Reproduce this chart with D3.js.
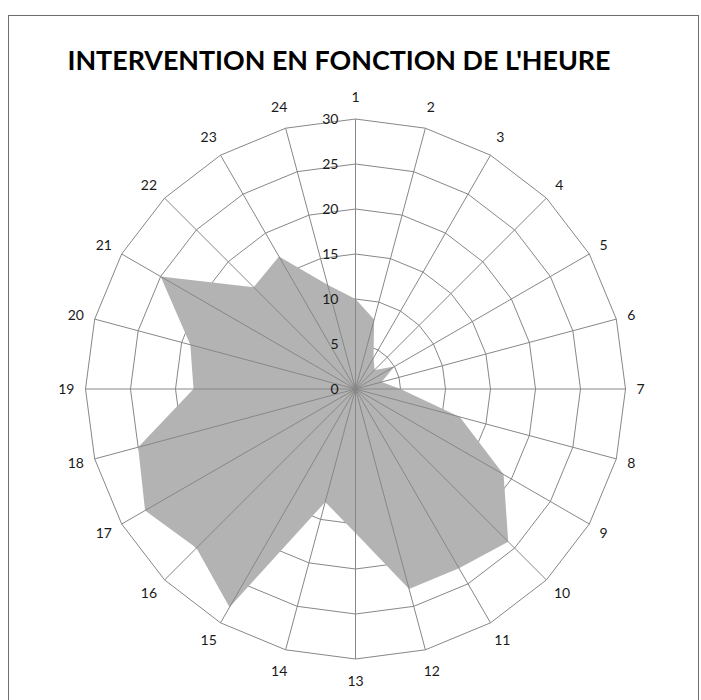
<!DOCTYPE html>
<html>
<head>
<meta charset="utf-8">
<script src="https://cdn.jsdelivr.net/npm/d3@7"></script>
<style>
  html, body { margin: 0; padding: 0; background: #fff; }
  svg { display: block; }
</style>
</head>
<body>
<svg id="chart" width="701" height="700"></svg>
<script>
// Hours of the day (category axis) and number of interventions per hour
const hours = ["1","2","3","4","5","6","7","8","9","10","11","12",
               "13","14","15","16","17","18","19","20","21","22","23","24"];
const interventions = [10, 8, 4, 3, 5, 3, 5, 12, 19, 24, 23, 23,
                       16, 13, 28, 25, 27, 25, 18, 19, 25, 16, 17, 12];
const radialTicks = [0, 5, 10, 15, 20, 25, 30];
const titleText = "INTERVENTION EN FONCTION DE L'HEURE";

const svg = d3.select("#chart");
const cx = 355.5, cy = 389, R = 270;
const gridColor = "#878787";
const textColor = "#1a1a1a";
const fontFamily = "Lato, 'Liberation Sans', sans-serif";

// Chart area frame
svg.append("rect")
  .attr("x", 8.5).attr("y", 15.5)
  .attr("width", 690).attr("height", 700)
  .attr("fill", "none").attr("stroke", "#6e6e6e").attr("stroke-width", 1);

// Title
svg.append("text")
  .attr("x", 339).attr("y", 70)
  .attr("text-anchor", "middle")
  .attr("font-family", fontFamily)
  .attr("font-weight", "bold")
  .attr("font-size", 26)
  .attr("fill", "#000")
  .attr("textLength", 543)
  .attr("lengthAdjust", "spacingAndGlyphs")
  .text(titleText);

const r = d3.scaleLinear().domain([0, 30]).range([0, R]);
const angle = d3.scaleLinear().domain([0, hours.length]).range([0, 2 * Math.PI]);

const g = svg.append("g").attr("transform", `translate(${cx},${cy})`);
const pt = (i, v) => [Math.sin(angle(i)) * r(v), -Math.cos(angle(i)) * r(v)];

// Concentric grid polygons
const ringLine = d3.line();
g.append("g").selectAll("path")
  .data(radialTicks.filter(t => t > 0))
  .join("path")
  .attr("d", t => ringLine(hours.map((h, i) => pt(i, t))) + "Z")
  .attr("fill", "none")
  .attr("stroke", gridColor)
  .attr("stroke-width", 1);

// Filled area of the series
const area = d3.lineRadial()
  .angle((d, i) => angle(i))
  .radius(d => r(d))
  .curve(d3.curveLinearClosed);
g.append("path")
  .datum(interventions)
  .attr("d", area)
  .attr("fill", "#b3b3b3")
  .attr("stroke", "none");

// Spokes
g.append("g").selectAll("line")
  .data(hours)
  .join("line")
  .attr("x1", 0).attr("y1", 0)
  .attr("x2", (h, i) => pt(i, 30)[0])
  .attr("y2", (h, i) => pt(i, 30)[1])
  .attr("stroke", gridColor)
  .attr("stroke-width", 1);

// Radial value labels along the first spoke
g.append("g").selectAll("text")
  .data(radialTicks)
  .join("text")
  .attr("x", -17)
  .attr("y", t => -r(t))
  .attr("dy", "0.35em")
  .attr("text-anchor", "end")
  .attr("font-family", fontFamily)
  .attr("font-size", 14)
  .attr("fill", textColor)
  .text(t => t);

// Hour labels around the outside
const labels = g.append("g").selectAll("text")
  .data(hours)
  .join("text")
  .attr("text-anchor", "middle")
  .attr("dy", "0.35em")
  .attr("font-family", fontFamily)
  .attr("font-size", 14)
  .attr("fill", textColor)
  .text(h => h);

labels.each(function (h, i) {
  const a = angle(i);
  const s = Math.sin(a), c = -Math.cos(a);
  const w = this.getComputedTextLength();
  const gap = 11 + 6 * c * c;
  const x = s * (R + gap) + s * w / 2;
  const y = c * (R + gap) + c * 5;
  d3.select(this).attr("x", x).attr("y", y);
});
</script>
</body>
</html>
